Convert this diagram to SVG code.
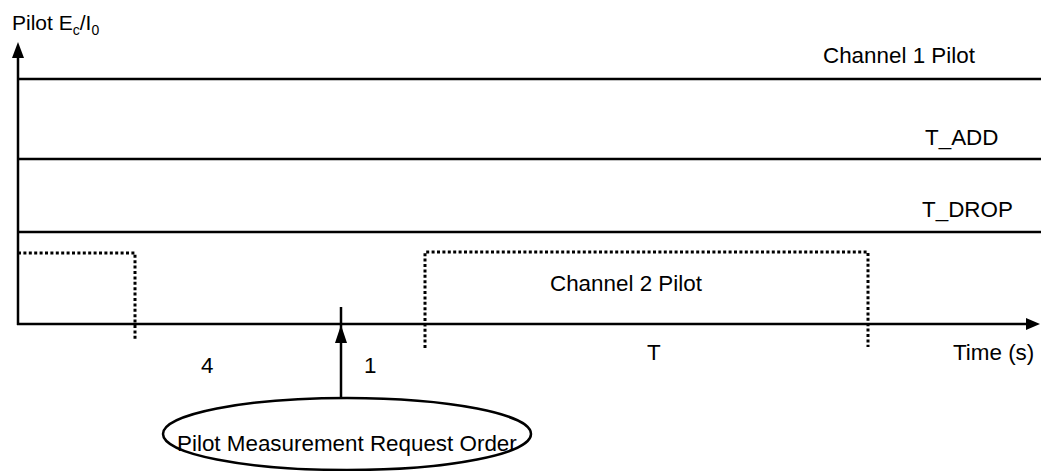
<svg xmlns="http://www.w3.org/2000/svg" width="1041" height="471" viewBox="0 0 1041 471">
<style>
.ln{stroke:#000;stroke-width:2.5;fill:none}
.dot{stroke:#000;stroke-width:3;fill:none;stroke-dasharray:3 2.4}
.t{font-family:"Liberation Sans",Arial,sans-serif;font-size:22.4px;fill:#000}
.ax{font-family:"Liberation Sans",Arial,sans-serif;font-size:21px;fill:#000}
.sub{font-size:14px}
</style>
<rect width="1041" height="471" fill="#fff"/>
<g id="axes">
<line class="ln" x1="18" y1="56" x2="18" y2="325"/>
<polygon points="18,42 12,58 24,58" fill="#000"/>
<line class="ln" x1="17" y1="324" x2="1028" y2="324"/>
<polygon points="1040,324 1026,318 1026,330" fill="#000"/>
<text class="ax" x="12" y="30">Pilot E<tspan class="sub" dy="5">c</tspan><tspan dy="-5">/I</tspan><tspan class="sub" dy="5">0</tspan></text>
<text class="t" x="953" y="360">Time (s)</text>
</g>
<g id="channel1">
<line class="ln" x1="18" y1="79" x2="1041" y2="79"/>
<text class="t" x="823" y="63">Channel 1 Pilot</text>
</g>
<g id="tadd">
<line class="ln" x1="18" y1="159" x2="1041" y2="159"/>
<text class="t" x="925" y="145">T_ADD</text>
</g>
<g id="tdrop">
<line class="ln" x1="18" y1="232" x2="1041" y2="232"/>
<text class="t" x="922" y="217">T_DROP</text>
</g>
<g id="channel2">
<polyline class="dot" points="18,253 135,253 135,341"/>
<polyline class="dot" points="425,348 425,252 868,252 868,347"/>
<text class="t" x="550" y="291">Channel 2 Pilot</text>
</g>
<g id="labels">
<text class="t" x="201" y="373">4</text>
<text class="t" x="364" y="373">1</text>
<text class="t" x="647" y="360">T</text>
</g>
<g id="order">
<ellipse class="ln" cx="347" cy="434" rx="184" ry="36"/>
<text class="t" x="177" y="451">Pilot Measurement Request Order</text>
</g>
<g id="connectors">
<line class="ln" x1="341" y1="398" x2="341" y2="307"/>
<polygon points="341,325 335,343 347,343" fill="#000"/>
</g>
</svg>
